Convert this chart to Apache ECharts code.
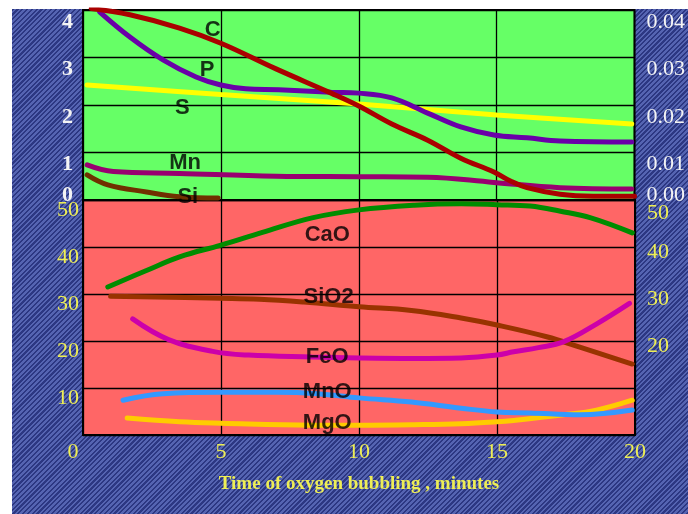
<!DOCTYPE html>
<html>
<head>
<meta charset="utf-8">
<script src="https://cdn.jsdelivr.net/npm/echarts@6/dist/echarts.min.js"></script>
<style>
  html, body { margin:0; padding:0; background:#ffffff; }
  #bg { position:absolute; left:12px; top:9px; width:676px; height:505px;
        background: repeating-linear-gradient(135deg, #2C3782 0px, #2C3782 1.6px, #5564B2 1.6px, #5564B2 3.4px); }
  #chart { position:absolute; left:0; top:0; width:688px; height:514px; }
</style>
</head>
<body>
<div id="bg"></div>
<div id="chart"></div>
<script>
// ---- Data (time in minutes) ----
var xTicks = [0, 5, 10, 15, 20];

// Top panel (metal composition, left axis 0-4)
var C  = [[0.3,4.03],[1.7,3.9],[3.5,3.62],[5,3.3],[7,2.76],[9,2.25],[10,1.98],[11.2,1.6],[12.5,1.26],[13.7,0.88],[14.9,0.59],[15.5,0.4],[16.1,0.26],[17.3,0.12],[18.5,0.08],[20,0.08]];
var P  = [[0.6,3.96],[1.7,3.43],[2.9,2.95],[4.1,2.59],[5,2.42],[5.9,2.34],[7.1,2.32],[9,2.27],[10,2.25],[11.2,2.15],[12.5,1.83],[13.7,1.54],[14.9,1.37],[16.1,1.31],[17.3,1.24],[19.9,1.22]];
var S  = [[0.15,2.42],[5,2.22],[10,2.02],[15,1.79],[19.9,1.6]];
var Mn = [[0.15,0.74],[1.1,0.6],[3.5,0.56],[7,0.5],[10,0.49],[12.5,0.48],[14.9,0.37],[17.3,0.26],[19.9,0.23]];
var Si = [[0.15,0.53],[0.9,0.32],[2.3,0.17],[3.5,0.07],[4.9,0.04]];

// Bottom panel (slag composition, 0-50)
var CaO  = [[0.9,31.5],[2.3,35],[3.5,37.9],[5,40.4],[6.5,43.1],[8.3,46.2],[10,47.9],[12,48.9],[13.7,49.2],[15,49.0],[16.2,48.7],[17.3,47.6],[18.4,46.2],[19.9,43]];
var SiO2 = [[1,29.5],[5,29.1],[6.4,28.9],[8,28.3],[10,27.3],[11.9,26.5],[13.7,24.9],[15,23.4],[16.8,20.9],[18,18.7],[19.9,15.1]];
var FeO  = [[1.8,24.7],[3.1,20.3],[4.7,17.8],[6,17],[8.3,16.6],[10,16.4],[12,16.3],[13.7,16.4],[15,17],[15.6,17.7],[16.5,18.6],[17.4,19.8],[18.6,23.6],[19.8,28]];
var MnO  = [[1.45,7.4],[2.9,8.8],[5,9.1],[7,9.1],[8.5,8.8],[10,7.9],[11.9,7.0],[13.7,5.7],[15,4.9],[16.2,4.7],[18,4.3],[19.9,5.3]];
var MgO  = [[1.6,3.6],[3.5,2.8],[5,2.5],[8.3,2.1],[10,2.1],[12,2.2],[13.7,2.4],[15,2.8],[15.6,3.1],[17.4,4.3],[18.6,5.3],[19.9,7.4]];

// In-plot curve names and where they sit (data coordinates)
var topNames = ['C', 'P', 'S', 'Mn', 'Si'];
var topNamePos = [[4.7,3.58],[4.5,2.74],[3.6,1.93],[3.7,0.78],[3.8,0.07]];
var botNames = ['CaO', 'SiO2', 'FeO', 'MnO', 'MgO'];
var botNamePos = [[8.85,42.5],[8.9,29.4],[8.85,16.6],[8.85,9.1],[8.85,2.6]];

var xTitle = 'Time of oxygen bubbling , minutes';

// ---- Chart ----
var chart = echarts.init(document.getElementById('chart'), null, {renderer:'canvas'});
var serif = "'Liberation Serif','Times New Roman',serif";
var sans = "'Liberation Sans',Arial,sans-serif";
var yellow = '#EEEE55';
var white = '#F4F4F4';

function lineSeries(name, data, color, x, y) {
  return { name:name, type:'line', xAxisIndex:x, yAxisIndex:y, data:data, smooth:0.4,
           showSymbol:false, symbol:'none', clip:true,
           lineStyle:{ color:color, width:5, cap:'round' }, z:3 };
}
function nameSeries(names, pos, x, y) {
  return { type:'scatter', xAxisIndex:x, yAxisIndex:y, symbolSize:1,
           itemStyle:{ color:'rgba(0,0,0,0)' }, z:10, silent:true,
           data: names.map(function(n, i){ return { name:n, value:pos[i] }; }),
           label:{ show:true, position:'inside', formatter:'{b}', color:'#000000',
                   fontFamily:sans, fontWeight:'bold', fontSize:22 } };
}
function richNum(fs, bold, col) {
  return { fontSize:fs, fontFamily:serif, fontWeight:bold ? 'bold' : 'normal', color:col };
}
function withPad(base, pad) {
  var o = {}; for (var k in base) o[k] = base[k]; o.padding = pad; return o;
}

var topLeftBase = richNum(22, true, white);
var topRightBase = richNum(22, false, white);
var botLeftBase = richNum(22, false, yellow);
var botRightBase = richNum(22, false, yellow);
var xBase = richNum(22, false, yellow);

var option = {
  animation:false,
  backgroundColor:'transparent',
  grid:[
    { left:83, right:53, top:10, height:190, show:true, backgroundColor:'#66FF66', borderColor:'#000000', borderWidth:2 },
    { left:83, right:53, top:200, height:235, show:true, backgroundColor:'#FF6666', borderColor:'#000000', borderWidth:2 }
  ],
  xAxis:[
    { gridIndex:0, type:'value', min:0, max:20, interval:5,
      axisLine:{show:false}, axisTick:{show:false}, axisLabel:{show:false},
      splitLine:{ show:true, lineStyle:{ color:'#000000', width:1.3 } } },
    { gridIndex:1, type:'value', min:0, max:20, interval:5,
      axisLine:{show:false}, axisTick:{show:false},
      axisLabel:{ show:true, margin:6,
        formatter:function(v){ return v === 0 ? '{z|0}' : '{n|' + v + '}'; },
        rich:{ n: xBase, z: withPad(xBase, [0,20,0,0]) } },
      splitLine:{ show:true, lineStyle:{ color:'#000000', width:1.3 } },
      name:xTitle, nameLocation:'middle', nameGap:40,
      nameTextStyle:{ color:yellow, fontFamily:serif, fontWeight:'bold', fontSize:19 } }
  ],
  yAxis:[
    { gridIndex:0, type:'value', position:'left', min:0, max:4, interval:1,
      axisLine:{show:false}, axisTick:{show:false},
      axisLabel:{ margin:10,
        formatter:function(v){ return v === 0 ? '{z|0}' : '{n|' + v + '}'; },
        rich:{ n: withPad(topLeftBase, [24,0,0,0]), z: withPad(topLeftBase, [0,0,10,0]) } },
      splitLine:{ show:true, lineStyle:{ color:'#000000', width:1.3 } } },
    { gridIndex:0, type:'value', position:'right', min:0, max:0.04, interval:0.01,
      axisLine:{show:false}, axisTick:{show:false},
      axisLabel:{ margin:12,
        formatter:function(v){ var s = v.toFixed(2); return v === 0 ? '{z|' + s + '}' : '{n|' + s + '}'; },
        rich:{ n: withPad(topRightBase, [24,0,0,0]), z: withPad(topRightBase, [0,0,10,0]) } },
      splitLine:{ show:false } },
    { gridIndex:1, type:'value', position:'left', min:0, max:50, interval:10,
      axisLine:{show:false}, axisTick:{show:false},
      axisLabel:{ margin:4,
        formatter:function(v){ return v === 0 ? '' : '{n|' + v + '}'; },
        rich:{ n: withPad(botLeftBase, [20,0,0,0]) } },
      splitLine:{ show:true, lineStyle:{ color:'#000000', width:1.3 } } },
    { gridIndex:1, type:'value', position:'right', min:0, max:50, interval:10,
      axisLine:{show:false}, axisTick:{show:false},
      axisLabel:{ margin:12,
        formatter:function(v){ return v < 20 ? '' : (v === 50 ? '{t|' + v + '}' : '{n|' + v + '}'); },
        rich:{ n: withPad(botRightBase, [10,0,0,0]), t: withPad(botRightBase, [26,0,0,0]) } },
      splitLine:{ show:false } }
  ],
  series:[
    lineSeries('S', S, '#FFFF00', 0, 0),
    lineSeries('Mn', Mn, '#990070', 0, 0),
    lineSeries('Si', Si, '#703000', 0, 0),
    lineSeries('P', P, '#6A00A8', 0, 0),
    lineSeries('C', C, '#AA0000', 0, 0),
    lineSeries('CaO', CaO, '#008C00', 1, 2),
    lineSeries('SiO2', SiO2, '#993300', 1, 2),
    lineSeries('FeO', FeO, '#CC00AA', 1, 2),
    lineSeries('MgO', MgO, '#FFCC00', 1, 2),
    lineSeries('MnO', MnO, '#3399FF', 1, 2),
    nameSeries(topNames, topNamePos, 0, 0),
    nameSeries(botNames, botNamePos, 1, 2)
  ]
};
chart.setOption(option);
</script>
</body>
</html>
